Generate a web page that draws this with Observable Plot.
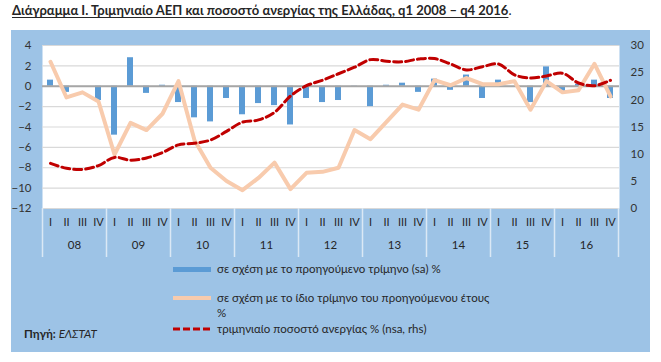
<!DOCTYPE html>
<html>
<head>
<meta charset="utf-8">
<script src="https://cdn.jsdelivr.net/npm/d3@7"></script>
<script src="https://cdn.jsdelivr.net/npm/@observablehq/plot@0.6"></script>
<style>
  body { margin: 0; background: #fff; }
  #wrap { position: relative; width: 661px; height: 362px; overflow: hidden;
          font-family: Lato, "Open Sans", "Noto Sans", sans-serif; color: #262626; }
  #title { position: absolute; left: 12px; top: 3px; font-size: 13px; line-height: 15px; white-space: nowrap; }
  #title b { text-decoration: underline; text-underline-offset: 2px; }
  #panel { position: absolute; left: 11px; top: 30px; width: 639px; height: 322px; background: #9DC3E6; }
  #chart { position: absolute; left: 0; top: 0; }
  .lt { position: absolute; font-size: 11.5px; line-height: 15px; white-space: nowrap; color: #262626; }
  .sw { position: absolute; }
</style>
</head>
<body>
<div id="wrap">
  <div id="panel"></div>
  <div id="title"><b>Διάγραμμα Ι. Τριμηνιαίο ΑΕΠ και ποσοστό ανεργίας της Ελλάδας, q1 2008 – q4 2016</b>.</div>
  <div id="chart"></div>
  <div class="sw" style="left:173px;top:267px;width:38px;height:5px;background:#5B9BD5"></div>
  <div class="lt" style="left:217px;top:261px">σε σχέση με το προηγούμενο τρίμηνο (sa) %</div>
  <div class="sw" style="left:173px;top:296px;width:38px;height:4px;background:#F8CBAD"></div>
  <div class="lt" style="left:217px;top:290px">σε σχέση με το ίδιο τρίμηνο του προηγούμενου έτους<br>%</div>
  <svg class="sw" style="left:173px;top:327px" width="38" height="4"><line x1="0" y1="2" x2="38" y2="2" stroke="#C00000" stroke-width="3" stroke-dasharray="7,3"/></svg>
  <div class="lt" style="left:217px;top:321px">τριμηνιαίο ποσοστό ανεργίας % (nsa, rhs)</div>
  <div class="lt" style="left:24px;top:326px"><b>Πηγή:</b> <i>ΕΛΣΤΑΤ</i></div>
</div>
<script>
const years = ["08", "09", "10", "11", "12", "13", "14", "15", "16"];
const quarters = ["I", "II", "III", "IV"];

// GDP, % change on previous quarter (sa) — bars, left axis
const qoq = [0.6, -0.6, 0.0, -1.4, -4.8, 2.8, -0.7, 0.1,
             -1.6, -3.1, -3.5, -1.2, -2.8, -1.7, -1.9, -3.8,
             -1.2, -1.6, -1.4, -0.1, -2.0, 0.1, 0.3, -0.6,
             0.7, -0.4, 1.1, -1.2, 0.6, 0.0, -1.6, 1.9,
             -0.5, 0.2, 0.6, -1.2];

// GDP, % change on same quarter of previous year — line, left axis
const yoy = [2.4, -1.1, -0.6, -1.5, -6.7, -3.6, -4.3, -2.7,
             0.5, -5.3, -8.0, -9.3, -10.2, -9.0, -7.5, -10.1,
             -8.5, -8.4, -8.0, -4.3, -5.2, -3.5, -1.8, -2.3,
             0.6, 0.1, 0.8, 0.2, 0.2, 0.5, -2.3, 0.5,
             -0.6, -0.4, 2.2, -1.0];

// Quarterly unemployment rate % (nsa) — dashed line, right axis
const unemployment = [8.3, 7.4, 7.2, 7.9, 9.4, 8.9, 9.3, 10.3,
                      11.7, 12.0, 12.6, 14.2, 15.9, 16.3, 17.7, 20.7,
                      22.6, 23.6, 24.8, 26.0, 27.4, 27.1, 27.0, 27.5,
                      27.6, 26.6, 25.5, 26.1, 26.6, 24.6, 24.0, 24.4,
                      24.9, 23.1, 22.6, 23.6];

const leftTicks = [-12, -10, -8, -6, -4, -2, 0, 2, 4];
const rightTicks = [0, 5, 10, 15, 20, 25, 30];

const L0 = -12, L1 = 4, R0 = 0, R1 = 30;
const toLeft = u => L0 + (u - R0) * (L1 - L0) / (R1 - R0);
const fromLeft = v => Math.round(R0 + (v - L0) * (R1 - R0) / (L1 - L0));

const keys = years.flatMap(y => quarters.map(q => `${y}-${q}`));
const data = keys.map((k, i) => ({
  key: k, q: k.split("-")[1], qoq: qoq[i], yoy: yoy[i], unempL: toLeft(unemployment[i])
}));

const chart = Plot.plot({
  width: 661, height: 362,
  marginLeft: 42, marginRight: 42, marginTop: 45, marginBottom: 154,
  style: { background: "transparent", fontFamily: 'Lato, "Open Sans", sans-serif', fontSize: "11.5px", color: "#333", overflow: "visible" },
  x: { type: "band", domain: keys, paddingInner: 0.62, paddingOuter: 0.31, axis: null },
  y: { domain: [L0, L1], axis: null },
  marks: [
    Plot.frame({ fill: "white", stroke: "none" }),
    Plot.gridY(leftTicks, { stroke: "#d9d9d9", strokeOpacity: 1, strokeWidth: 1.2 }),
    Plot.barY(data, { x: "key", y: "qoq", fill: "#5B9BD5" }),
    Plot.ruleY([0], { stroke: "#a6a6a6", strokeWidth: 2 }),
    Plot.lineY(data, { x: "key", y: "yoy", stroke: "#F8CBAD", strokeWidth: 4 }),
    Plot.lineY(data, { x: "key", y: "unempL", stroke: "#C00000", strokeWidth: 3, strokeDasharray: "8,4", curve: "catmull-rom" }),
    Plot.axisY({ ticks: leftTicks, anchor: "left", tickSize: 0, tickPadding: 11, label: null, fill: "#333" }),
    Plot.axisY({ ticks: rightTicks.map(toLeft), anchor: "right", tickSize: 0, tickPadding: 11, tickFormat: fromLeft, label: null, fill: "#333" }),
    Plot.ruleX(years, { x: d => `${d}-I`, dx: -8, insetTop: 163, insetBottom: -49, stroke: "#dbe8f5", strokeWidth: 1.5 }),
    Plot.ruleX([keys[keys.length - 1]], { x: d => d, dx: 8, insetTop: 163, insetBottom: -49, stroke: "#dbe8f5", strokeWidth: 1.5 }),
    Plot.text(data, { x: "key", text: "q", frameAnchor: "bottom", dy: 17, fill: "#262626", fontSize: 11 }),
    Plot.text(years, { x: d => `${d}-II`, text: d => d, frameAnchor: "bottom", dx: 8, dy: 40, fill: "#262626", fontSize: 11.5 })
  ]
});
document.getElementById("chart").appendChild(chart);
</script>
</body>
</html>
